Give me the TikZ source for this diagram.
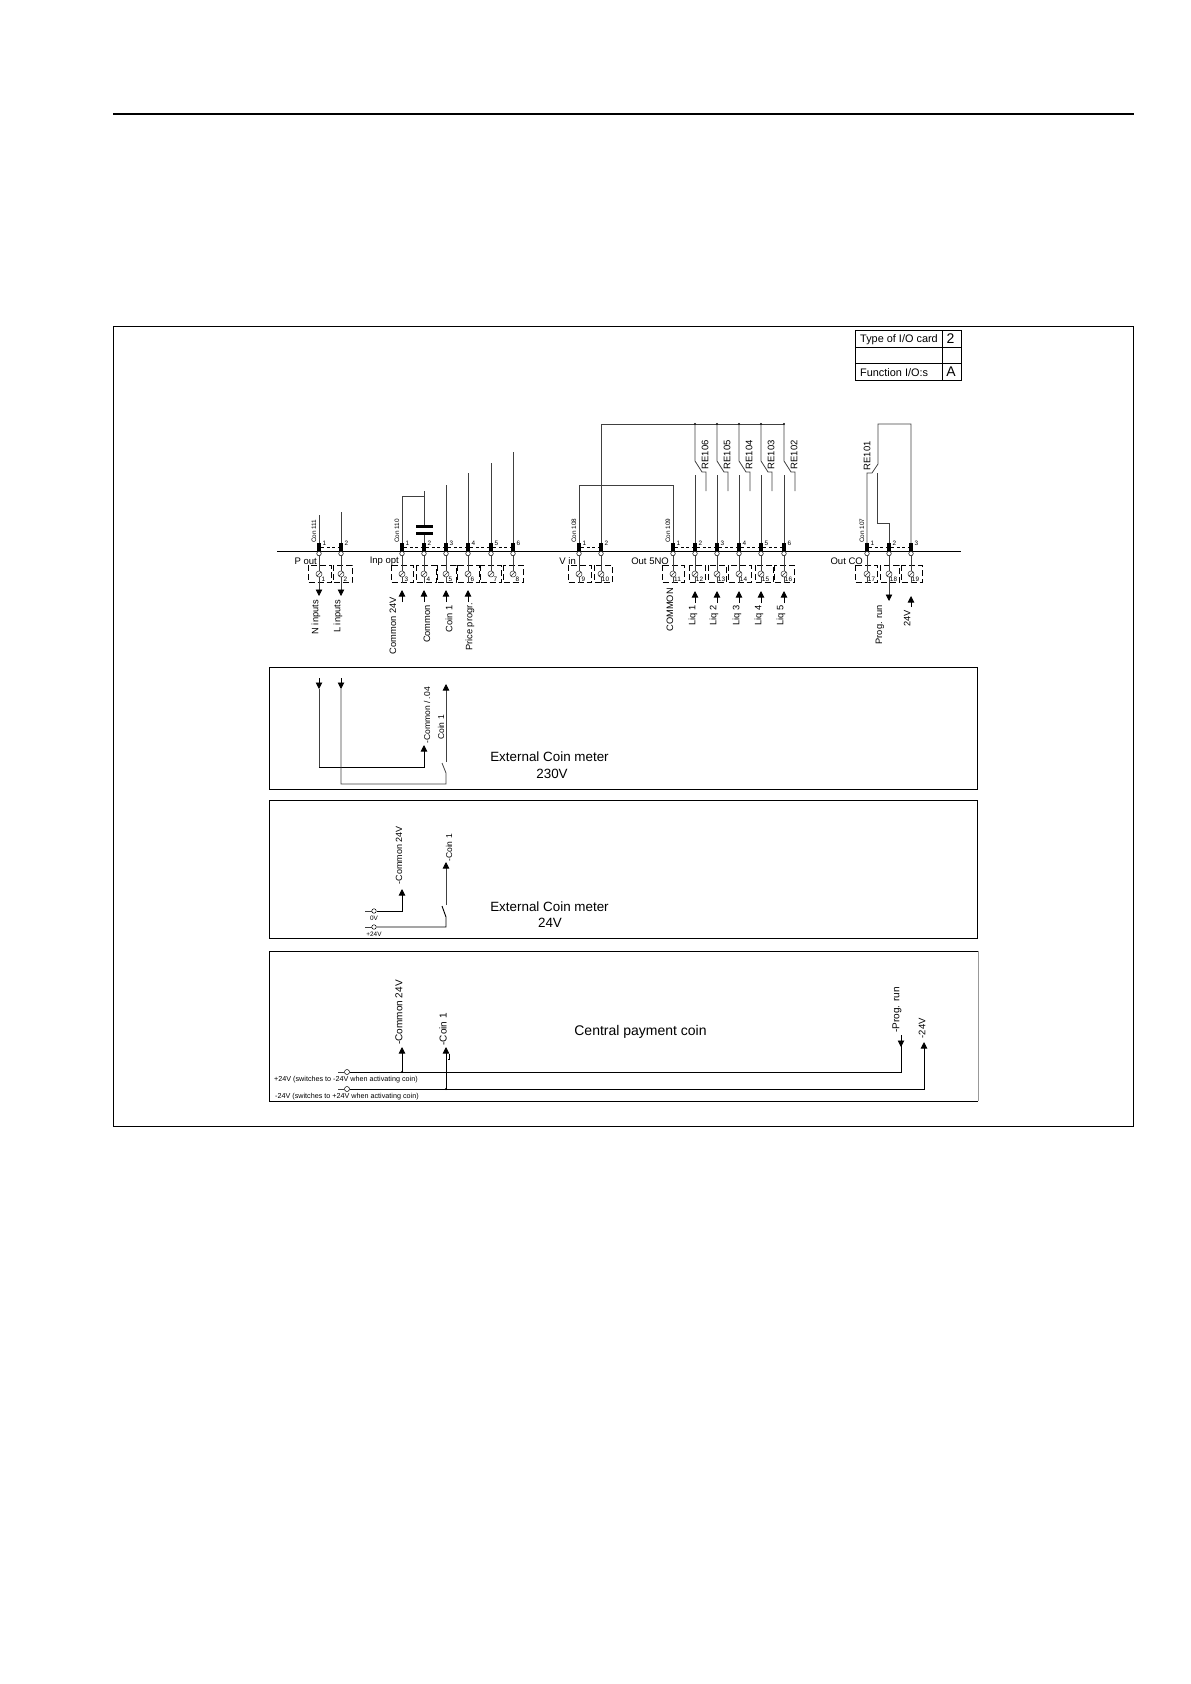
\documentclass[tikz,border=0pt]{standalone}
\usepackage{fontspec}
\setmainfont{Liberation Sans}
\usetikzlibrary{arrows.meta}
\newcommand{\fsz}[1]{\fontsize{#1}{#1}\selectfont}
\tikzset{
  wire/.style={draw=black!75, line width=0.8pt},
  blackwire/.style={draw=black, line width=0.9pt},
  arrowwire/.style={wire, -{Triangle[length=6.5pt,width=6.5pt,color=black]}},
  blackarrow/.style={blackwire, -{Triangle[length=6.5pt,width=6.5pt]}},
  panel/.style={draw=black, line width=1pt},
  pinblock/.style={fill=black, inner sep=0pt, minimum width=4.5pt, minimum height=8pt},
  pinring/.style={circle, draw=black, fill=white, line width=0.5pt, inner sep=0pt, minimum size=4.5pt},
  pinlink/.style={draw=black, line width=0.7pt, dash pattern=on 3pt off 2.5pt},
  termbox/.style={draw=black, line width=0.6pt, dash pattern=on 6pt off 3pt},
  screw/.style={circle, draw=black!80, fill=white, line width=0.5pt, inner sep=0pt, minimum size=6pt,
    path picture={\draw[black!80, line width=0.5pt] (path picture bounding box.south west) -- (path picture bounding box.north east);}},
  joint/.style={circle, fill=black, inner sep=0pt, minimum size=2.2pt},
  vlabel/.style={rotate=90, anchor=east, inner sep=0pt, font=\fsz{9.3}},
  tinytxt/.style={inner sep=0pt, font=\fsz{6.4}},
  titletxt/.style={inner sep=0pt, font=\fsz{13.4}},
}
\begin{document}
\begin{tikzpicture}[x=1pt, y=-1pt]
  \useasboundingbox (0,0) rectangle (1191,1684);
  % page rule and outer frame
  \coordinate (rulel) at (113,113.5);
  \coordinate (ruler) at (1134,113.5);
  \draw[line width=2pt] (rulel) -- (ruler);
  \draw[panel] (113.5,326) rectangle (1133.5,1126);
  % I/O table
  \draw[panel] (855,330) rectangle (961,380);
  \draw[panel] (942,330) -- (942,380);
  \draw[panel] (855,347) -- (961,347);
  \draw[panel] (855,363) -- (961,363);
  \node[anchor=west, inner sep=0pt, font=\fsz{10.9}] (cardtype) at (860,340) {Type of I/O card};
  \node[anchor=west, inner sep=0pt, font=\fsz{10.9}] (cardfunc) at (860,372.5) {Function I/O:s};
  \node[inner sep=0pt, font=\fsz{14}] (cardtwo) at (950.5,339) {2};
  \node[inner sep=0pt, font=\fsz{14}] (cardA) at (951,372) {A};
  % bus
  \coordinate (busl) at (277,551);
  \coordinate (busr) at (961,551);
  \draw[line width=0.9pt] (busl) -- (busr);
  % connector pins
  \foreach \pinname/\pinx/\pinnum in {p1/319/1, p2/341/2, i1/402/1, i2/424/2, i3/446/3, i4/468/4, i5/491/5, i6/513/6,
      v1/579/1, v2/601/2, o1/673/1, o2/695/2, o3/717/3, o4/739/4, o5/761/5, o6/784/6, c1/867/1, c2/889/2, c3/911/3} {
    \node[pinblock] (\pinname) at (\pinx,547) {};
    \node[pinring] (\pinname r) at (\pinx,553.5) {};
    \node[tinytxt] (\pinname n) at (\pinx+5.5,543) {\pinnum};
  }
  \foreach \from/\to in {p1/p2, i1/i2, i2/i3, i3/i4, i4/i5, i5/i6, v1/v2, o1/o2, o2/o3, o3/o4, o4/o5, o5/o6, c1/c2, c2/c3}
    \draw[pinlink] (\from) -- (\to);
  \foreach \conname/\conx/\context in {conp/314/Con 111, coni/397/Con 110, conv/574/Con 108, cono/668/Con 109, conc/862/Con 107}
    \node[vlabel, anchor=west, font=\fsz{6.4}] (\conname) at (\conx,543) {\context};
  % terminal boxes
  \foreach \tname/\tx/\tl/\tr/\tnum in {t1/319/308/331/1, t2/341/333/352/2, t3/402/391/413/3, t4/424/416/436/4, t5/446/437/456/5,
      t6/468/457/479/6, t7/491/480/501/7, t8/513/503/523/8, t9/579/568/591/9, t10/601/594/612/10, t11/673/662/684/11,
      t12/695/689/705/12, t13/717/708/726/13, t14/739/728/751/14, t15/761/755/773/15, t16/784/774/794/16,
      t17/867/855/877/17, t18/889/880/899/18, t19/911/901/922/19} {
    \draw[termbox] (\tl,565) rectangle (\tr,582.5);
    \node[screw] (\tname) at (\tx,574) {};
    \node[tinytxt] (\tname n) at (\tx+4.5,579) {\tnum};
  }
  \foreach \ringn/\termn in {p1r/t1, p2r/t2, i1r/t3, i2r/t4, i3r/t5, i4r/t6, i5r/t7, i6r/t8, v1r/t9, v2r/t10, o1r/t11,
      o2r/t12, o3r/t13, o4r/t14, o5r/t15, o6r/t16, c1r/t17, c2r/t18, c3r/t19}
    \draw[wire] (\ringn) -- (\termn);
  % upper wires
  \foreach \pinname/\pinx/\topy in {p1/319/515, p2/341/512, i3/446/485, i4/468/473, i5/491/463, i6/513/452} {
    \coordinate (\pinname top) at (\pinx,\topy);
    \draw[wire] (\pinname) -- (\pinname top);
  }
  \coordinate (itop) at (424,496);
  \coordinate (capa) at (424,526);
  \coordinate (capb) at (424,533);
  \coordinate (capend) at (424,491);
  \draw[wire] (i2) -- (capb);
  \draw[wire] (capa) -- (capend);
  \draw[wire] (i1) |- (itop);
  \draw[line width=3pt] (416,526) -- (433,526);
  \draw[line width=3pt] (416,533) -- (433,533);
  % V in loop
  \coordinate (vloopl) at (579,485);
  \coordinate (vloopr) at (673,485);
  \draw[wire] (v1) -- (vloopl) -- (vloopr) -- (o1);
  % relays
  \coordinate (relaybus) at (784,424);
  \draw[wire] (v2) |- (relaybus);
  \foreach \relname/\relx/\pinname in {RE106/695/o2, RE105/717/o3, RE104/739/o4, RE103/761/o5, RE102/784/o6} {
    \coordinate (\relname top) at (\relx,424);
    \coordinate (\relname arm) at (\relx,461);
    \coordinate (\relname nc) at (\relx+7,472);
    \coordinate (\relname corner) at (\relx+11,472);
    \coordinate (\relname end) at (\relx+11,491);
    \coordinate (\relname low) at (\relx,475);
    \node[joint] at (\relname top) {};
    \draw[wire] (\relname top) -- (\relname arm) -- (\relname nc) -- (\relname corner) -- (\relname end);
    \draw[wire] (\relname low) -- (\pinname);
    \node[vlabel, font=\fsz{9.5}] (\relname txt) at (\relx+10,440) {\relname};
  }
  % RE101
  \coordinate (cq) at (867,473);
  \coordinate (cr) at (872,473);
  \coordinate (cs) at (878,464);
  \coordinate (ct) at (878,424);
  \coordinate (cu) at (911,424);
  \coordinate (cv) at (877,473);
  \coordinate (cw) at (877,523);
  \coordinate (cx) at (889,523);
  \draw[wire] (c1) -- (cq) -- (cr) -- (cs) -- (ct) -- (cu) -- (c3);
  \draw[wire] (cv) -- (cw) -- (cx) -- (c2);
  \node[vlabel, font=\fsz{9.5}] (re101) at (867,441) {RE101};
  % labels at the terminals
  \node[inner sep=0pt, anchor=east, font=\fsz{9.5}] (pout) at (317,561) {P out};
  \node[inner sep=0pt, anchor=east, font=\fsz{9.5}] (inpopt) at (399,561) {Inp opt};
  \node[inner sep=0pt, anchor=east, font=\fsz{9.5}] (vin) at (576,561) {V in};
  \node[inner sep=0pt, anchor=east, font=\fsz{9.5}] (out5no) at (669,561) {Out 5NO};
  \node[inner sep=0pt, anchor=east, font=\fsz{9.5}] (outco) at (863,561) {Out CO};
  % arrows under the terminals
  \foreach \tname/\tx/\tipy in {t1/319/596, t2/341/596, t18/889/601} {
    \coordinate (\tname tip) at (\tx,\tipy);
    \draw[arrowwire] (\tname) -- (\tname tip);
  }
  \foreach \tname/\tx in {t3/402, t4/424, t5/446, t6/468, t9/579, t10/601, t11/673, t12/695, t13/717, t14/739, t15/761, t16/784, t17/867, t19/911} {
    \coordinate (\tname stub) at (\tx,583);
    \draw[wire] (\tname) -- (\tname stub);
  }
  \foreach \arrname/\tx/\taily/\tipy in {ua/402/602/590, ub/424/602/590, uc/446/602/590, ud/468/602/590, ue/695/603/591, uf/717/603/591,
      ug/739/603/591, uh/761/603/591, ui/784/603/591, uj/911/607/596} {
    \coordinate (\arrname tail) at (\tx,\taily);
    \coordinate (\arrname tip) at (\tx,\tipy);
    \draw[blackarrow] (\arrname tail) -- (\arrname tip);
  }
  \foreach \lname/\lx/\ly/\ltext in {la/316/600/N inputs, lb/338/600/L inputs, lc/393/597/Common 24V, ld/427/605/Common, le/449/605/Coin 1,
      lf/470/603/Price progr., lg/670/588/COMMON, lh/693/605/Liq 1, li/714/605/Liq 2, lj/737/605/Liq 3, lk/759/605/Liq 4, ll/781/605/Liq 5,
      lm/880/605/Prog. run, ln/907/610/24V}
    \node[vlabel] (\lname) at (\lx,\ly) {\ltext};
  % panel: external coin meter 230V
  \draw[panel] (269,667) rectangle (977,789);
  \coordinate (aa) at (319,678);
  \coordinate (ab) at (319,689);
  \coordinate (ac) at (319,767);
  \coordinate (ad) at (424,767);
  \coordinate (ae) at (424,745);
  \draw[blackarrow] (aa) -- (ab);
  \draw[wire] (ab) -- (ac);
  \draw[blackarrow] (ac) -- (ad) -- (ae);
  \coordinate (af) at (341,678);
  \coordinate (ag) at (341,689);
  \coordinate (ah) at (341,784);
  \coordinate (ai) at (446,784);
  \coordinate (aj) at (446,773);
  \coordinate (ak) at (442,763);
  \coordinate (al) at (446,762);
  \coordinate (am) at (446,684);
  \draw[blackarrow] (af) -- (ag);
  \draw[wire] (ag) -- (ah) -- (ai) -- (aj) -- (ak);
  \draw[arrowwire] (al) -- (am);
  \node[vlabel, font=\fsz{8.5}] (acom) at (427,687) {-Common / .04};
  \node[vlabel, font=\fsz{8.5}] (acoin) at (441,715) {Coin 1};
  \node[titletxt] (ameter) at (549.5,757) {External Coin meter};
  \node[titletxt] (avolt) at (552,774) {230V};
  % panel: external coin meter 24V
  \draw[panel] (269,800) rectangle (977,938);
  \coordinate (ba) at (365,911);
  \node[pinring] (bb) at (374,911) {};
  \coordinate (bc) at (402,911);
  \coordinate (bd) at (402,889);
  \draw[wire] (ba) -- (bb);
  \draw[blackarrow] (bb) -- (bc) -- (bd);
  \coordinate (be) at (365,927);
  \node[pinring] (bf) at (374,927) {};
  \coordinate (bg) at (446,927);
  \coordinate (bh) at (446,917);
  \coordinate (bi) at (442,906);
  \coordinate (bj) at (446,905);
  \coordinate (bk) at (446,862);
  \draw[wire] (be) -- (bf);
  \draw[blackwire] (bf) -- (bg) -- (bh) -- (bi);
  \draw[arrowwire] (bj) -- (bk);
  \node[vlabel, font=\fsz{9}] (bcom) at (399,826) {-Common 24V};
  \node[vlabel, font=\fsz{8.5}] (bcoin) at (449,834) {-Coin 1};
  \node[tinytxt] (bzero) at (374,918) {0V};
  \node[tinytxt] (bplus) at (374,934) {+24V};
  \node[titletxt] (bmeter) at (549.5,907) {External Coin meter};
  \node[titletxt] (bvolt) at (550,923) {24V};
  % panel: central payment coin
  \draw[panel] (978,1101) -- (269,1101) -- (269,951) -- (978,951);
  \draw[panel, draw=black!40] (978,951) -- (978,1101);
  \coordinate (ca) at (338,1072);
  \node[pinring, minimum size=5pt] (cb) at (347,1072) {};
  \coordinate (cc) at (901,1072);
  \coordinate (cd) at (901,1035);
  \coordinate (ce) at (901,1047);
  \draw[wire] (ca) -- (cb);
  \draw[blackwire] (cb) -- (cc) -- (cd);
  \draw[blackarrow] (cd) -- (ce);
  \coordinate (cf) at (338,1089);
  \node[pinring, minimum size=5pt] (cg) at (347,1089) {};
  \coordinate (ch) at (924,1089);
  \coordinate (ci) at (924,1042);
  \draw[wire] (cf) -- (cg);
  \draw[blackarrow] (cg) -- (ch) -- (ci);
  \coordinate (cj) at (402,1072);
  \coordinate (ck) at (402,1047);
  \draw[blackarrow] (cj) -- (ck);
  \coordinate (cl) at (446,1089);
  \coordinate (cm) at (446,1047);
  \draw[blackarrow] (cl) -- (cm);
  \node[joint] at (cj) {};
  \node[joint] at (cl) {};
  \draw[line width=0.7pt] (448,1059) -- (449.5,1059) -- (449.5,1054);
  \node[vlabel, font=\fsz{10}] (ccom) at (399,980) {-Common 24V};
  \node[vlabel, font=\fsz{10}] (ccoin) at (443,1013) {-Coin 1};
  \node[vlabel, font=\fsz{10}] (cprog) at (897,987) {-Prog. run};
  \node[vlabel, font=\fsz{9.5}] (cneg) at (922,1018) {-24V};
  \node[titletxt, font=\fsz{14}] (cpay) at (640.5,1032) {Central payment coin};
  \node[anchor=west, inner sep=0pt, font=\fsz{7.2}] (cplus) at (274,1080) {+24V (switches to -24V when activating coin)};
  \node[anchor=west, inner sep=0pt, font=\fsz{7.2}] (cminus) at (275,1097) {-24V (switches to +24V when activating coin)};
\end{tikzpicture}
\end{document}
